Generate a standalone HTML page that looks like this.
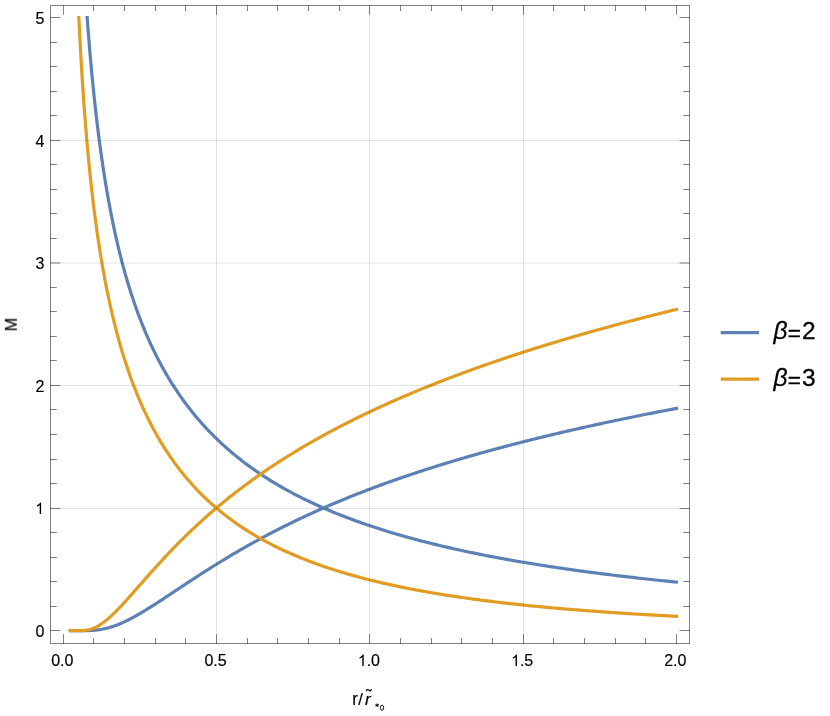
<!DOCTYPE html>
<html><head><meta charset="utf-8"><title>Plot</title>
<style>
html,body{margin:0;padding:0;background:#fff;}
body{width:830px;height:716px;overflow:hidden;font-family:"Liberation Sans",sans-serif;}
svg{display:block;position:absolute;left:0;top:0;}
</style></head><body>
<svg width="830" height="716" viewBox="0 0 830 716">
<rect width="830" height="716" fill="#fff"/>
<g fill="none" stroke-width="3.2" stroke-linecap="square" stroke-linejoin="round">
<path d="M87.16,17.60 L87.44,21.36 L87.72,25.10 L88.01,28.83 L88.30,32.54 L88.59,36.23 L88.89,39.91 L89.19,43.58 L89.49,47.22 L89.80,50.85 L90.11,54.47 L90.43,58.07 L90.74,61.65 L91.07,65.22 L91.39,68.77 L91.72,72.31 L92.06,75.82 L92.39,79.33 L92.73,82.81 L93.08,86.29 L93.43,89.74 L93.78,93.18 L94.14,96.61 L94.50,100.01 L94.87,103.41 L95.24,106.78 L95.62,110.14 L96.00,113.49 L96.38,116.82 L96.77,120.13 L97.16,123.43 L97.56,126.71 L97.96,129.98 L98.37,133.23 L98.78,136.47 L99.20,139.69 L99.62,142.89 L100.05,146.09 L100.48,149.26 L100.92,152.42 L101.36,155.57 L101.81,158.70 L102.26,161.81 L102.72,164.91 L103.18,168.00 L103.65,171.07 L104.12,174.12 L104.60,177.16 L105.09,180.19 L105.58,183.20 L106.08,186.20 L106.58,189.18 L107.09,192.15 L107.61,195.10 L108.13,198.04 L108.65,200.97 L109.19,203.88 L109.73,206.78 L110.27,209.66 L110.83,212.53 L111.39,215.38 L111.95,218.23 L112.53,221.05 L113.11,223.87 L113.69,226.67 L114.28,229.45 L114.88,232.23 L115.49,234.99 L116.11,237.73 L116.73,240.47 L117.36,243.19 L117.99,245.89 L118.64,248.59 L119.29,251.27 L119.95,253.93 L120.62,256.59 L121.29,259.23 L121.97,261.86 L122.67,264.48 L123.36,267.08 L124.07,269.67 L124.79,272.25 L125.51,274.81 L126.25,277.37 L126.99,279.91 L127.74,282.44 L128.50,284.95 L129.27,287.46 L130.04,289.95 L130.83,292.43 L131.62,294.90 L132.43,297.35 L133.24,299.80 L134.07,302.23 L134.90,304.65 L135.75,307.06 L136.60,309.46 L137.46,311.84 L138.34,314.22 L139.22,316.58 L140.12,318.93 L141.02,321.27 L141.94,323.60 L142.87,325.92 L143.81,328.22 L144.75,330.52 L145.71,332.80 L146.69,335.07 L147.67,337.33 L148.66,339.58 L149.67,341.82 L150.69,344.05 L151.72,346.27 L152.76,348.47 L153.82,350.67 L154.89,352.86 L155.97,355.03 L157.06,357.19 L158.16,359.35 L159.28,361.49 L160.41,363.62 L161.56,365.74 L162.72,367.86 L163.89,369.96 L165.08,372.05 L166.28,374.13 L167.49,376.20 L168.72,378.26 L169.97,380.31 L171.22,382.35 L172.50,384.38 L173.79,386.40 L175.09,388.40 L176.41,390.40 L177.74,392.39 L179.09,394.37 L180.46,396.34 L181.84,398.30 L183.24,400.25 L184.66,402.19 L186.09,404.12 L187.54,406.04 L189.00,407.95 L190.49,409.85 L191.99,411.74 L193.51,413.62 L195.04,415.49 L196.60,417.35 L198.17,419.20 L199.76,421.05 L201.37,422.88 L203.00,424.70 L204.65,426.51 L206.32,428.32 L208.01,430.11 L209.71,431.90 L211.44,433.67 L213.19,435.44 L214.96,437.20 L216.75,438.94 L219.06,441.15 L221.37,443.32 L223.68,445.44 L225.99,447.51 L228.30,449.54 L230.61,451.53 L232.92,453.48 L235.23,455.39 L237.54,457.26 L239.85,459.10 L242.16,460.90 L244.47,462.67 L246.78,464.40 L249.09,466.10 L251.40,467.77 L253.71,469.41 L256.03,471.02 L258.34,472.60 L260.65,474.16 L262.96,475.68 L265.27,477.18 L267.58,478.66 L269.89,480.11 L272.20,481.53 L274.51,482.94 L276.82,484.31 L279.13,485.67 L281.44,487.00 L283.75,488.32 L286.06,489.61 L288.37,490.88 L290.68,492.13 L292.99,493.36 L295.30,494.58 L297.61,495.77 L299.92,496.95 L302.23,498.11 L304.54,499.25 L306.85,500.37 L309.16,501.48 L311.47,502.57 L313.78,503.65 L316.09,504.71 L318.40,505.76 L320.71,506.79 L323.02,507.80 L325.33,508.81 L327.64,509.80 L329.95,510.77 L332.27,511.73 L334.58,512.68 L336.89,513.62 L339.20,514.54 L341.51,515.45 L343.82,516.35 L346.13,517.24 L348.44,518.12 L350.75,518.98 L353.06,519.84 L355.37,520.68 L357.68,521.51 L359.99,522.34 L362.30,523.15 L364.61,523.95 L366.92,524.74 L369.23,525.52 L371.54,526.30 L373.85,527.06 L376.16,527.81 L378.47,528.56 L380.78,529.30 L383.09,530.02 L385.40,530.74 L387.71,531.45 L390.02,532.16 L392.33,532.85 L394.64,533.54 L396.95,534.21 L399.26,534.88 L401.57,535.55 L403.88,536.20 L406.19,536.85 L408.51,537.49 L410.82,538.13 L413.13,538.75 L415.44,539.37 L417.75,539.99 L420.06,540.59 L422.37,541.19 L424.68,541.79 L426.99,542.38 L429.30,542.96 L431.61,543.53 L433.92,544.10 L436.23,544.66 L438.54,545.22 L440.85,545.77 L443.16,546.32 L445.47,546.86 L447.78,547.39 L450.09,547.92 L452.40,548.44 L454.71,548.96 L457.02,549.48 L459.33,549.98 L461.64,550.49 L463.95,550.98 L466.26,551.48 L468.57,551.97 L470.88,552.45 L473.19,552.93 L475.50,553.40 L477.81,553.87 L480.12,554.34 L482.43,554.80 L484.74,555.25 L487.06,555.71 L489.37,556.15 L491.68,556.60 L493.99,557.04 L496.30,557.47 L498.61,557.90 L500.92,558.33 L503.23,558.75 L505.54,559.17 L507.85,559.59 L510.16,560.00 L512.47,560.41 L514.78,560.81 L517.09,561.21 L519.40,561.61 L521.71,562.00 L524.02,562.39 L526.33,562.78 L528.64,563.16 L530.95,563.54 L533.26,563.92 L535.57,564.29 L537.88,564.66 L540.19,565.03 L542.50,565.39 L544.81,565.75 L547.12,566.11 L549.43,566.46 L551.74,566.81 L554.05,567.16 L556.36,567.50 L558.67,567.85 L560.98,568.19 L563.30,568.52 L565.61,568.86 L567.92,569.19 L570.23,569.52 L572.54,569.84 L574.85,570.16 L577.16,570.48 L579.47,570.80 L581.78,571.12 L584.09,571.43 L586.40,571.74 L588.71,572.05 L591.02,572.35 L593.33,572.65 L595.64,572.95 L597.95,573.25 L600.26,573.55 L602.57,573.84 L604.88,574.13 L607.19,574.42 L609.50,574.71 L611.81,574.99 L614.12,575.27 L616.43,575.55 L618.74,575.83 L621.05,576.10 L623.36,576.38 L625.67,576.65 L627.98,576.92 L630.29,577.18 L632.60,577.45 L634.91,577.71 L637.22,577.97 L639.54,578.23 L641.85,578.49 L644.16,578.74 L646.47,579.00 L648.78,579.25 L651.09,579.50 L653.40,579.74 L655.71,579.99 L658.02,580.23 L660.33,580.48 L662.64,580.72 L664.95,580.95 L667.26,581.19 L669.57,581.43 L671.88,581.66 L674.19,581.89 L676.50,582.12" stroke="#5e81b5"/>
<path d="M70.30,630.70 L71.52,630.70 L72.73,630.70 L73.95,630.70 L75.16,630.70 L76.38,630.70 L77.59,630.70 L78.81,630.70 L80.02,630.70 L81.24,630.69 L82.45,630.69 L83.67,630.68 L84.88,630.67 L86.10,630.65 L87.31,630.62 L88.53,630.59 L89.74,630.54 L90.96,630.49 L92.17,630.42 L93.39,630.33 L94.60,630.24 L95.82,630.12 L97.03,629.99 L98.25,629.84 L99.46,629.67 L100.67,629.48 L101.89,629.27 L103.10,629.04 L104.32,628.79 L105.53,628.52 L106.75,628.22 L107.96,627.91 L109.18,627.58 L110.39,627.22 L111.61,626.85 L112.82,626.46 L114.04,626.05 L115.25,625.61 L116.47,625.16 L117.68,624.69 L118.90,624.21 L120.11,623.71 L121.33,623.19 L122.54,622.65 L123.76,622.10 L124.97,621.53 L126.19,620.95 L127.40,620.36 L128.62,619.75 L129.83,619.13 L131.05,618.50 L132.26,617.86 L133.47,617.20 L134.69,616.54 L135.90,615.86 L137.12,615.18 L138.33,614.48 L139.55,613.78 L140.76,613.07 L141.98,612.35 L143.19,611.62 L144.41,610.89 L145.62,610.15 L146.84,609.40 L148.05,608.65 L149.27,607.89 L150.48,607.13 L151.70,606.36 L152.91,605.59 L154.13,604.82 L155.34,604.04 L156.56,603.25 L157.77,602.47 L158.99,601.68 L160.20,600.89 L161.42,600.09 L162.63,599.30 L163.85,598.50 L165.06,597.70 L166.28,596.90 L167.49,596.09 L168.70,595.29 L169.92,594.48 L171.13,593.68 L172.35,592.87 L173.56,592.07 L174.78,591.26 L175.99,590.45 L177.21,589.65 L178.42,588.84 L179.64,588.03 L180.85,587.23 L182.07,586.42 L183.28,585.62 L184.50,584.81 L185.71,584.01 L186.93,583.21 L188.14,582.41 L189.36,581.61 L190.57,580.81 L191.79,580.02 L193.00,579.22 L194.22,578.43 L195.43,577.64 L196.65,576.85 L197.86,576.06 L199.08,575.27 L200.29,574.49 L201.50,573.71 L202.72,572.93 L203.93,572.15 L205.15,571.37 L206.36,570.60 L207.58,569.83 L208.79,569.06 L210.01,568.29 L211.22,567.52 L212.44,566.76 L213.65,566.00 L214.87,565.24 L216.08,564.49 L217.30,563.74 L218.51,562.99 L219.73,562.24 L220.94,561.49 L222.16,560.75 L223.37,560.01 L224.59,559.27 L225.80,558.54 L227.02,557.80 L228.23,557.07 L229.45,556.35 L230.66,555.62 L231.88,554.90 L233.09,554.18 L234.31,553.47 L235.52,552.75 L236.73,552.04 L237.95,551.33 L239.16,550.63 L240.38,549.93 L241.59,549.23 L242.81,548.53 L244.02,547.83 L245.24,547.14 L246.45,546.45 L247.67,545.77 L248.88,545.08 L250.10,544.40 L251.31,543.72 L252.53,543.05 L253.74,542.37 L254.96,541.70 L256.17,541.04 L257.39,540.37 L258.60,539.71 L259.82,539.05 L261.03,538.39 L262.25,537.74 L263.46,537.09 L264.68,536.44 L265.89,535.79 L267.11,535.15 L268.32,534.51 L269.53,533.87 L270.75,533.23 L271.96,532.60 L273.18,531.97 L274.39,531.34 L275.61,530.72 L276.82,530.09 L278.04,529.47 L279.25,528.85 L280.47,528.24 L281.68,527.63 L282.90,527.02 L284.11,526.41 L285.33,525.80 L286.54,525.20 L287.76,524.60 L288.97,524.00 L290.19,523.41 L291.40,522.81 L292.62,522.22 L293.83,521.64 L295.05,521.05 L296.26,520.47 L297.48,519.89 L298.69,519.31 L299.91,518.73 L301.12,518.16 L302.34,517.59 L303.55,517.02 L304.76,516.45 L305.98,515.88 L307.19,515.32 L308.41,514.76 L309.62,514.20 L310.84,513.65 L312.05,513.10 L313.27,512.54 L314.48,512.00 L315.70,511.45 L316.91,510.90 L318.13,510.36 L319.34,509.82 L320.56,509.28 L321.77,508.75 L322.99,508.21 L324.20,507.68 L325.42,507.15 L326.63,506.63 L327.85,506.10 L329.06,505.58 L330.28,505.06 L331.49,504.54 L332.71,504.02 L333.92,503.50 L335.14,502.99 L336.35,502.48 L337.56,501.97 L338.78,501.46 L339.99,500.96 L341.21,500.45 L342.42,499.95 L343.64,499.45 L344.85,498.96 L346.07,498.46 L347.28,497.97 L348.50,497.47 L349.71,496.99 L350.93,496.50 L352.14,496.01 L353.36,495.53 L354.57,495.04 L355.79,494.56 L357.00,494.08 L358.22,493.61 L359.43,493.13 L360.65,492.66 L361.86,492.19 L363.08,491.72 L364.29,491.25 L365.51,490.78 L366.72,490.32 L367.94,489.85 L369.15,489.39 L370.37,488.93 L371.58,488.47 L372.79,488.02 L374.01,487.56 L375.22,487.11 L376.44,486.66 L377.65,486.21 L378.87,485.76 L380.08,485.31 L381.30,484.87 L382.51,484.43 L383.73,483.98 L384.94,483.54 L386.16,483.11 L387.37,482.67 L388.59,482.23 L389.80,481.80 L391.02,481.37 L392.23,480.94 L393.45,480.51 L394.66,480.08 L395.88,479.65 L397.09,479.23 L398.31,478.80 L399.52,478.38 L400.74,477.96 L401.95,477.54 L403.17,477.13 L404.38,476.71 L405.59,476.29 L406.81,475.88 L408.02,475.47 L409.24,475.06 L410.45,474.65 L411.67,474.24 L412.88,473.84 L414.10,473.43 L415.31,473.03 L416.53,472.63 L417.74,472.23 L418.96,471.83 L420.17,471.43 L421.39,471.03 L422.60,470.64 L423.82,470.24 L425.03,469.85 L426.25,469.46 L427.46,469.07 L428.68,468.68 L429.89,468.29 L431.11,467.90 L432.32,467.52 L433.54,467.13 L434.75,466.75 L435.97,466.37 L437.18,465.99 L438.40,465.61 L439.61,465.23 L440.82,464.86 L442.04,464.48 L443.25,464.11 L444.47,463.73 L445.68,463.36 L446.90,462.99 L448.11,462.62 L449.33,462.25 L450.54,461.89 L451.76,461.52 L452.97,461.16 L454.19,460.79 L455.40,460.43 L456.62,460.07 L457.83,459.71 L459.05,459.35 L460.26,458.99 L461.48,458.63 L462.69,458.28 L463.91,457.92 L465.12,457.57 L466.34,457.22 L467.55,456.86 L468.77,456.51 L469.98,456.16 L471.20,455.81 L472.41,455.47 L473.62,455.12 L474.84,454.78 L476.05,454.43 L477.27,454.09 L478.48,453.75 L479.70,453.40 L480.91,453.06 L482.13,452.73 L483.34,452.39 L484.56,452.05 L485.77,451.71 L486.99,451.38 L488.20,451.04 L489.42,450.71 L490.63,450.38 L491.85,450.05 L493.06,449.72 L494.28,449.39 L495.49,449.06 L496.71,448.73 L497.92,448.40 L499.14,448.08 L500.35,447.75 L501.57,447.43 L502.78,447.11 L504.00,446.78 L505.21,446.46 L506.43,446.14 L507.64,445.82 L508.85,445.50 L510.07,445.19 L511.28,444.87 L512.50,444.55 L513.71,444.24 L514.93,443.92 L516.14,443.61 L517.36,443.30 L518.57,442.99 L519.79,442.68 L521.00,442.37 L522.22,442.06 L523.43,441.75 L524.65,441.44 L525.86,441.14 L527.08,440.83 L528.29,440.53 L529.51,440.22 L530.72,439.92 L531.94,439.62 L533.15,439.31 L534.37,439.01 L535.58,438.71 L536.80,438.41 L538.01,438.12 L539.23,437.82 L540.44,437.52 L541.65,437.22 L542.87,436.93 L544.08,436.63 L545.30,436.34 L546.51,436.05 L547.73,435.76 L548.94,435.46 L550.16,435.17 L551.37,434.88 L552.59,434.59 L553.80,434.30 L555.02,434.02 L556.23,433.73 L557.45,433.44 L558.66,433.16 L559.88,432.87 L561.09,432.59 L562.31,432.30 L563.52,432.02 L564.74,431.74 L565.95,431.46 L567.17,431.18 L568.38,430.90 L569.60,430.62 L570.81,430.34 L572.03,430.06 L573.24,429.78 L574.46,429.51 L575.67,429.23 L576.88,428.96 L578.10,428.68 L579.31,428.41 L580.53,428.13 L581.74,427.86 L582.96,427.59 L584.17,427.32 L585.39,427.05 L586.60,426.78 L587.82,426.51 L589.03,426.24 L590.25,425.97 L591.46,425.70 L592.68,425.44 L593.89,425.17 L595.11,424.91 L596.32,424.64 L597.54,424.38 L598.75,424.11 L599.97,423.85 L601.18,423.59 L602.40,423.33 L603.61,423.06 L604.83,422.80 L606.04,422.54 L607.26,422.28 L608.47,422.03 L609.68,421.77 L610.90,421.51 L612.11,421.25 L613.33,421.00 L614.54,420.74 L615.76,420.48 L616.97,420.23 L618.19,419.98 L619.40,419.72 L620.62,419.47 L621.83,419.22 L623.05,418.96 L624.26,418.71 L625.48,418.46 L626.69,418.21 L627.91,417.96 L629.12,417.71 L630.34,417.46 L631.55,417.22 L632.77,416.97 L633.98,416.72 L635.20,416.47 L636.41,416.23 L637.63,415.98 L638.84,415.74 L640.06,415.49 L641.27,415.25 L642.49,415.01 L643.70,414.76 L644.91,414.52 L646.13,414.28 L647.34,414.04 L648.56,413.80 L649.77,413.56 L650.99,413.32 L652.20,413.08 L653.42,412.84 L654.63,412.60 L655.85,412.36 L657.06,412.13 L658.28,411.89 L659.49,411.65 L660.71,411.42 L661.92,411.18 L663.14,410.95 L664.35,410.71 L665.57,410.48 L666.78,410.25 L668.00,410.01 L669.21,409.78 L670.43,409.55 L671.64,409.32 L672.86,409.09 L674.07,408.86 L675.29,408.63 L676.50,408.40" stroke="#5e81b5"/>
<path d="M78.85,17.60 L79.08,22.21 L79.30,26.79 L79.53,31.34 L79.77,35.86 L80.01,40.35 L80.25,44.82 L80.49,49.26 L80.74,53.67 L80.99,58.06 L81.24,62.42 L81.50,66.75 L81.77,71.06 L82.03,75.34 L82.30,79.60 L82.58,83.83 L82.85,88.04 L83.14,92.22 L83.42,96.38 L83.71,100.51 L84.01,104.62 L84.31,108.71 L84.61,112.77 L84.92,116.81 L85.23,120.83 L85.55,124.82 L85.87,128.79 L86.19,132.74 L86.52,136.67 L86.86,140.57 L87.20,144.45 L87.55,148.31 L87.90,152.16 L88.25,155.97 L88.61,159.77 L88.98,163.55 L89.35,167.31 L89.73,171.04 L90.11,174.76 L90.50,178.46 L90.89,182.14 L91.29,185.79 L91.69,189.43 L92.10,193.05 L92.52,196.65 L92.94,200.23 L93.37,203.80 L93.81,207.34 L94.25,210.87 L94.70,214.38 L95.15,217.87 L95.62,221.34 L96.08,224.79 L96.56,228.23 L97.04,231.65 L97.53,235.05 L98.02,238.44 L98.53,241.80 L99.04,245.16 L99.56,248.49 L100.08,251.81 L100.62,255.11 L101.16,258.40 L101.70,261.66 L102.26,264.92 L102.83,268.16 L103.40,271.38 L103.98,274.58 L104.57,277.77 L105.17,280.95 L105.78,284.11 L106.39,287.25 L107.02,290.38 L107.65,293.49 L108.30,296.59 L108.95,299.67 L109.61,302.74 L110.28,305.79 L110.97,308.83 L111.66,311.86 L112.36,314.87 L113.07,317.86 L113.79,320.84 L114.53,323.81 L115.27,326.76 L116.03,329.70 L116.79,332.62 L117.57,335.53 L118.36,338.42 L119.16,341.30 L119.97,344.17 L120.79,347.02 L121.62,349.86 L122.47,352.69 L123.33,355.50 L124.20,358.30 L125.09,361.08 L125.99,363.85 L126.90,366.60 L127.82,369.35 L128.76,372.08 L129.71,374.79 L130.67,377.49 L131.65,380.18 L132.65,382.85 L133.65,385.51 L134.68,388.16 L135.71,390.79 L136.77,393.41 L137.83,396.02 L138.92,398.61 L140.02,401.19 L141.13,403.75 L142.26,406.30 L143.41,408.84 L144.58,411.36 L145.76,413.87 L146.96,416.37 L148.17,418.85 L149.41,421.32 L150.66,423.77 L151.93,426.21 L153.22,428.64 L154.53,431.05 L155.85,433.45 L157.20,435.84 L158.57,438.21 L159.95,440.57 L161.36,442.91 L162.78,445.24 L164.23,447.55 L165.70,449.85 L167.19,452.14 L168.70,454.41 L170.23,456.67 L171.79,458.91 L173.37,461.14 L174.97,463.36 L176.59,465.56 L178.24,467.75 L179.91,469.92 L181.61,472.07 L183.33,474.22 L185.08,476.34 L186.85,478.46 L188.65,480.56 L190.47,482.64 L192.32,484.71 L194.20,486.76 L196.10,488.80 L198.04,490.82 L200.00,492.83 L201.99,494.83 L204.01,496.80 L206.05,498.77 L208.13,500.71 L210.24,502.65 L212.38,504.56 L214.55,506.46 L216.75,508.35 L219.06,510.29 L221.37,512.17 L223.68,514.02 L225.99,515.82 L228.30,517.59 L230.61,519.31 L232.92,521.00 L235.23,522.65 L237.54,524.26 L239.85,525.84 L242.16,527.39 L244.47,528.90 L246.78,530.38 L249.09,531.83 L251.40,533.26 L253.71,534.65 L256.03,536.01 L258.34,537.35 L260.65,538.66 L262.96,539.94 L265.27,541.20 L267.58,542.44 L269.89,543.65 L272.20,544.84 L274.51,546.01 L276.82,547.15 L279.13,548.27 L281.44,549.37 L283.75,550.45 L286.06,551.52 L288.37,552.56 L290.68,553.58 L292.99,554.59 L295.30,555.57 L297.61,556.54 L299.92,557.50 L302.23,558.43 L304.54,559.35 L306.85,560.26 L309.16,561.14 L311.47,562.02 L313.78,562.87 L316.09,563.72 L318.40,564.55 L320.71,565.36 L323.02,566.17 L325.33,566.95 L327.64,567.73 L329.95,568.49 L332.27,569.24 L334.58,569.98 L336.89,570.71 L339.20,571.43 L341.51,572.13 L343.82,572.82 L346.13,573.50 L348.44,574.18 L350.75,574.84 L353.06,575.49 L355.37,576.13 L357.68,576.76 L359.99,577.38 L362.30,577.99 L364.61,578.59 L366.92,579.19 L369.23,579.77 L371.54,580.35 L373.85,580.91 L376.16,581.47 L378.47,582.02 L380.78,582.57 L383.09,583.10 L385.40,583.63 L387.71,584.15 L390.02,584.66 L392.33,585.16 L394.64,585.66 L396.95,586.15 L399.26,586.63 L401.57,587.11 L403.88,587.58 L406.19,588.04 L408.51,588.50 L410.82,588.95 L413.13,589.39 L415.44,589.83 L417.75,590.26 L420.06,590.69 L422.37,591.11 L424.68,591.53 L426.99,591.93 L429.30,592.34 L431.61,592.74 L433.92,593.13 L436.23,593.52 L438.54,593.90 L440.85,594.28 L443.16,594.65 L445.47,595.02 L447.78,595.38 L450.09,595.74 L452.40,596.09 L454.71,596.44 L457.02,596.78 L459.33,597.12 L461.64,597.46 L463.95,597.79 L466.26,598.12 L468.57,598.44 L470.88,598.76 L473.19,599.08 L475.50,599.39 L477.81,599.69 L480.12,600.00 L482.43,600.30 L484.74,600.59 L487.06,600.88 L489.37,601.17 L491.68,601.46 L493.99,601.74 L496.30,602.02 L498.61,602.29 L500.92,602.56 L503.23,602.83 L505.54,603.10 L507.85,603.36 L510.16,603.62 L512.47,603.87 L514.78,604.12 L517.09,604.37 L519.40,604.62 L521.71,604.86 L524.02,605.11 L526.33,605.34 L528.64,605.58 L530.95,605.81 L533.26,606.04 L535.57,606.27 L537.88,606.49 L540.19,606.71 L542.50,606.93 L544.81,607.15 L547.12,607.36 L549.43,607.58 L551.74,607.79 L554.05,607.99 L556.36,608.20 L558.67,608.40 L560.98,608.60 L563.30,608.80 L565.61,609.00 L567.92,609.19 L570.23,609.38 L572.54,609.57 L574.85,609.76 L577.16,609.94 L579.47,610.13 L581.78,610.31 L584.09,610.49 L586.40,610.66 L588.71,610.84 L591.02,611.01 L593.33,611.18 L595.64,611.35 L597.95,611.52 L600.26,611.69 L602.57,611.85 L604.88,612.01 L607.19,612.17 L609.50,612.33 L611.81,612.49 L614.12,612.65 L616.43,612.80 L618.74,612.95 L621.05,613.10 L623.36,613.25 L625.67,613.40 L627.98,613.55 L630.29,613.69 L632.60,613.83 L634.91,613.98 L637.22,614.12 L639.54,614.25 L641.85,614.39 L644.16,614.53 L646.47,614.66 L648.78,614.80 L651.09,614.93 L653.40,615.06 L655.71,615.19 L658.02,615.31 L660.33,615.44 L662.64,615.57 L664.95,615.69 L667.26,615.81 L669.57,615.93 L671.88,616.05 L674.19,616.17 L676.50,616.29" stroke="#e19c24"/>
<path d="M70.30,630.70 L71.52,630.70 L72.73,630.70 L73.95,630.70 L75.16,630.70 L76.38,630.70 L77.59,630.69 L78.81,630.68 L80.02,630.65 L81.24,630.61 L82.45,630.55 L83.67,630.46 L84.88,630.34 L86.10,630.18 L87.31,629.97 L88.53,629.73 L89.74,629.43 L90.96,629.08 L92.17,628.68 L93.39,628.22 L94.60,627.71 L95.82,627.15 L97.03,626.53 L98.25,625.86 L99.46,625.14 L100.67,624.37 L101.89,623.56 L103.10,622.69 L104.32,621.79 L105.53,620.84 L106.75,619.86 L107.96,618.83 L109.18,617.78 L110.39,616.69 L111.61,615.57 L112.82,614.42 L114.04,613.25 L115.25,612.05 L116.47,610.83 L117.68,609.60 L118.90,608.34 L120.11,607.06 L121.33,605.77 L122.54,604.47 L123.76,603.15 L124.97,601.82 L126.19,600.49 L127.40,599.14 L128.62,597.79 L129.83,596.43 L131.05,595.06 L132.26,593.69 L133.47,592.32 L134.69,590.94 L135.90,589.56 L137.12,588.18 L138.33,586.79 L139.55,585.41 L140.76,584.03 L141.98,582.65 L143.19,581.27 L144.41,579.89 L145.62,578.52 L146.84,577.14 L148.05,575.77 L149.27,574.41 L150.48,573.04 L151.70,571.68 L152.91,570.33 L154.13,568.98 L155.34,567.63 L156.56,566.29 L157.77,564.96 L158.99,563.63 L160.20,562.30 L161.42,560.99 L162.63,559.67 L163.85,558.37 L165.06,557.07 L166.28,555.77 L167.49,554.48 L168.70,553.20 L169.92,551.92 L171.13,550.66 L172.35,549.39 L173.56,548.14 L174.78,546.89 L175.99,545.64 L177.21,544.41 L178.42,543.18 L179.64,541.95 L180.85,540.74 L182.07,539.53 L183.28,538.32 L184.50,537.13 L185.71,535.94 L186.93,534.75 L188.14,533.58 L189.36,532.41 L190.57,531.24 L191.79,530.09 L193.00,528.94 L194.22,527.79 L195.43,526.66 L196.65,525.53 L197.86,524.40 L199.08,523.28 L200.29,522.17 L201.50,521.07 L202.72,519.97 L203.93,518.88 L205.15,517.79 L206.36,516.71 L207.58,515.64 L208.79,514.57 L210.01,513.51 L211.22,512.45 L212.44,511.40 L213.65,510.36 L214.87,509.32 L216.08,508.29 L217.30,507.27 L218.51,506.25 L219.73,505.23 L220.94,504.22 L222.16,503.22 L223.37,502.22 L224.59,501.23 L225.80,500.24 L227.02,499.26 L228.23,498.29 L229.45,497.32 L230.66,496.35 L231.88,495.39 L233.09,494.44 L234.31,493.49 L235.52,492.55 L236.73,491.61 L237.95,490.68 L239.16,489.75 L240.38,488.82 L241.59,487.90 L242.81,486.99 L244.02,486.08 L245.24,485.18 L246.45,484.28 L247.67,483.38 L248.88,482.49 L250.10,481.61 L251.31,480.73 L252.53,479.85 L253.74,478.98 L254.96,478.11 L256.17,477.25 L257.39,476.39 L258.60,475.54 L259.82,474.69 L261.03,473.84 L262.25,473.00 L263.46,472.16 L264.68,471.33 L265.89,470.50 L267.11,469.68 L268.32,468.86 L269.53,468.04 L270.75,467.23 L271.96,466.42 L273.18,465.62 L274.39,464.82 L275.61,464.02 L276.82,463.23 L278.04,462.44 L279.25,461.65 L280.47,460.87 L281.68,460.09 L282.90,459.32 L284.11,458.55 L285.33,457.78 L286.54,457.02 L287.76,456.26 L288.97,455.50 L290.19,454.75 L291.40,454.00 L292.62,453.26 L293.83,452.51 L295.05,451.77 L296.26,451.04 L297.48,450.31 L298.69,449.58 L299.91,448.85 L301.12,448.13 L302.34,447.41 L303.55,446.69 L304.76,445.98 L305.98,445.27 L307.19,444.56 L308.41,443.86 L309.62,443.16 L310.84,442.46 L312.05,441.77 L313.27,441.07 L314.48,440.39 L315.70,439.70 L316.91,439.02 L318.13,438.34 L319.34,437.66 L320.56,436.99 L321.77,436.31 L322.99,435.65 L324.20,434.98 L325.42,434.32 L326.63,433.66 L327.85,433.00 L329.06,432.34 L330.28,431.69 L331.49,431.04 L332.71,430.39 L333.92,429.75 L335.14,429.11 L336.35,428.47 L337.56,427.83 L338.78,427.20 L339.99,426.57 L341.21,425.94 L342.42,425.31 L343.64,424.69 L344.85,424.06 L346.07,423.45 L347.28,422.83 L348.50,422.21 L349.71,421.60 L350.93,420.99 L352.14,420.38 L353.36,419.78 L354.57,419.18 L355.79,418.58 L357.00,417.98 L358.22,417.38 L359.43,416.79 L360.65,416.19 L361.86,415.61 L363.08,415.02 L364.29,414.43 L365.51,413.85 L366.72,413.27 L367.94,412.69 L369.15,412.11 L370.37,411.54 L371.58,410.97 L372.79,410.40 L374.01,409.83 L375.22,409.26 L376.44,408.70 L377.65,408.14 L378.87,407.57 L380.08,407.02 L381.30,406.46 L382.51,405.91 L383.73,405.35 L384.94,404.80 L386.16,404.25 L387.37,403.71 L388.59,403.16 L389.80,402.62 L391.02,402.08 L392.23,401.54 L393.45,401.00 L394.66,400.47 L395.88,399.93 L397.09,399.40 L398.31,398.87 L399.52,398.34 L400.74,397.82 L401.95,397.29 L403.17,396.77 L404.38,396.25 L405.59,395.73 L406.81,395.21 L408.02,394.69 L409.24,394.18 L410.45,393.67 L411.67,393.16 L412.88,392.65 L414.10,392.14 L415.31,391.63 L416.53,391.13 L417.74,390.62 L418.96,390.12 L420.17,389.62 L421.39,389.13 L422.60,388.63 L423.82,388.13 L425.03,387.64 L426.25,387.15 L427.46,386.66 L428.68,386.17 L429.89,385.68 L431.11,385.20 L432.32,384.71 L433.54,384.23 L434.75,383.75 L435.97,383.27 L437.18,382.79 L438.40,382.31 L439.61,381.84 L440.82,381.36 L442.04,380.89 L443.25,380.42 L444.47,379.95 L445.68,379.48 L446.90,379.02 L448.11,378.55 L449.33,378.09 L450.54,377.62 L451.76,377.16 L452.97,376.70 L454.19,376.24 L455.40,375.79 L456.62,375.33 L457.83,374.88 L459.05,374.42 L460.26,373.97 L461.48,373.52 L462.69,373.07 L463.91,372.62 L465.12,372.18 L466.34,371.73 L467.55,371.29 L468.77,370.84 L469.98,370.40 L471.20,369.96 L472.41,369.52 L473.62,369.09 L474.84,368.65 L476.05,368.21 L477.27,367.78 L478.48,367.35 L479.70,366.91 L480.91,366.48 L482.13,366.05 L483.34,365.63 L484.56,365.20 L485.77,364.77 L486.99,364.35 L488.20,363.93 L489.42,363.50 L490.63,363.08 L491.85,362.66 L493.06,362.24 L494.28,361.83 L495.49,361.41 L496.71,360.99 L497.92,360.58 L499.14,360.17 L500.35,359.75 L501.57,359.34 L502.78,358.93 L504.00,358.52 L505.21,358.12 L506.43,357.71 L507.64,357.30 L508.85,356.90 L510.07,356.50 L511.28,356.09 L512.50,355.69 L513.71,355.29 L514.93,354.89 L516.14,354.49 L517.36,354.10 L518.57,353.70 L519.79,353.31 L521.00,352.91 L522.22,352.52 L523.43,352.13 L524.65,351.74 L525.86,351.34 L527.08,350.96 L528.29,350.57 L529.51,350.18 L530.72,349.79 L531.94,349.41 L533.15,349.02 L534.37,348.64 L535.58,348.26 L536.80,347.88 L538.01,347.50 L539.23,347.12 L540.44,346.74 L541.65,346.36 L542.87,345.98 L544.08,345.61 L545.30,345.23 L546.51,344.86 L547.73,344.49 L548.94,344.12 L550.16,343.74 L551.37,343.37 L552.59,343.00 L553.80,342.64 L555.02,342.27 L556.23,341.90 L557.45,341.54 L558.66,341.17 L559.88,340.81 L561.09,340.44 L562.31,340.08 L563.52,339.72 L564.74,339.36 L565.95,339.00 L567.17,338.64 L568.38,338.28 L569.60,337.93 L570.81,337.57 L572.03,337.21 L573.24,336.86 L574.46,336.51 L575.67,336.15 L576.88,335.80 L578.10,335.45 L579.31,335.10 L580.53,334.75 L581.74,334.40 L582.96,334.05 L584.17,333.70 L585.39,333.36 L586.60,333.01 L587.82,332.67 L589.03,332.32 L590.25,331.98 L591.46,331.64 L592.68,331.29 L593.89,330.95 L595.11,330.61 L596.32,330.27 L597.54,329.94 L598.75,329.60 L599.97,329.26 L601.18,328.92 L602.40,328.59 L603.61,328.25 L604.83,327.92 L606.04,327.59 L607.26,327.25 L608.47,326.92 L609.68,326.59 L610.90,326.26 L612.11,325.93 L613.33,325.60 L614.54,325.27 L615.76,324.94 L616.97,324.62 L618.19,324.29 L619.40,323.97 L620.62,323.64 L621.83,323.32 L623.05,322.99 L624.26,322.67 L625.48,322.35 L626.69,322.03 L627.91,321.71 L629.12,321.39 L630.34,321.07 L631.55,320.75 L632.77,320.43 L633.98,320.11 L635.20,319.80 L636.41,319.48 L637.63,319.17 L638.84,318.85 L640.06,318.54 L641.27,318.23 L642.49,317.91 L643.70,317.60 L644.91,317.29 L646.13,316.98 L647.34,316.67 L648.56,316.36 L649.77,316.05 L650.99,315.74 L652.20,315.44 L653.42,315.13 L654.63,314.82 L655.85,314.52 L657.06,314.21 L658.28,313.91 L659.49,313.61 L660.71,313.30 L661.92,313.00 L663.14,312.70 L664.35,312.40 L665.57,312.10 L666.78,311.80 L668.00,311.50 L669.21,311.20 L670.43,310.90 L671.64,310.61 L672.86,310.31 L674.07,310.01 L675.29,309.72 L676.50,309.42" stroke="#e19c24"/>
</g>
<g stroke="#000" stroke-opacity="0.11" stroke-width="1" fill="none">
<path d="M216.5,6.0 V643.0"/>
<path d="M369.5,6.0 V643.0"/>
<path d="M523.5,6.0 V643.0"/>
<path d="M51.0,508.5 H689.0"/>
<path d="M51.0,385.5 H689.0"/>
<path d="M51.0,263.0 H689.0"/>
<path d="M51.0,140.5 H689.0"/>
</g>
<path d="M63.5,644.0 v-9.8 M63.5,5.0 v9.8 M93.5,644.0 v-6.0 M93.5,5.0 v6.0 M124.5,644.0 v-6.0 M124.5,5.0 v6.0 M155.5,644.0 v-6.0 M155.5,5.0 v6.0 M185.5,644.0 v-6.0 M185.5,5.0 v6.0 M216.5,644.0 v-9.8 M216.5,5.0 v9.8 M247.5,644.0 v-6.0 M247.5,5.0 v6.0 M277.5,644.0 v-6.0 M277.5,5.0 v6.0 M308.5,644.0 v-6.0 M308.5,5.0 v6.0 M339.5,644.0 v-6.0 M339.5,5.0 v6.0 M369.5,644.0 v-9.8 M369.5,5.0 v9.8 M400.5,644.0 v-6.0 M400.5,5.0 v6.0 M431.5,644.0 v-6.0 M431.5,5.0 v6.0 M461.5,644.0 v-6.0 M461.5,5.0 v6.0 M492.5,644.0 v-6.0 M492.5,5.0 v6.0 M523.5,644.0 v-9.8 M523.5,5.0 v9.8 M553.5,644.0 v-6.0 M553.5,5.0 v6.0 M584.5,644.0 v-6.0 M584.5,5.0 v6.0 M615.5,644.0 v-6.0 M615.5,5.0 v6.0 M645.5,644.0 v-6.0 M645.5,5.0 v6.0 M676.5,644.0 v-9.8 M676.5,5.0 v9.8 M50.0,630.5 h10.4 M690.0,630.5 h-10.4 M50.0,606.5 h6.75 M690.0,606.5 h-6.75 M50.0,581.5 h6.75 M690.0,581.5 h-6.75 M50.0,557.5 h6.75 M690.0,557.5 h-6.75 M50.0,532.5 h6.75 M690.0,532.5 h-6.75 M50.0,508.5 h10.4 M690.0,508.5 h-10.4 M50.0,483.5 h6.75 M690.0,483.5 h-6.75 M50.0,459.5 h6.75 M690.0,459.5 h-6.75 M50.0,434.5 h6.75 M690.0,434.5 h-6.75 M50.0,409.5 h6.75 M690.0,409.5 h-6.75 M50.0,385.5 h10.4 M690.0,385.5 h-10.4 M50.0,360.5 h6.75 M690.0,360.5 h-6.75 M50.0,336.5 h6.75 M690.0,336.5 h-6.75 M50.0,311.5 h6.75 M690.0,311.5 h-6.75 M50.0,287.5 h6.75 M690.0,287.5 h-6.75 M50.0,263.0 h10.4 M690.0,263.0 h-10.4 M50.0,238.5 h6.75 M690.0,238.5 h-6.75 M50.0,213.5 h6.75 M690.0,213.5 h-6.75 M50.0,189.5 h6.75 M690.0,189.5 h-6.75 M50.0,164.5 h6.75 M690.0,164.5 h-6.75 M50.0,140.5 h10.4 M690.0,140.5 h-10.4 M50.0,115.5 h6.75 M690.0,115.5 h-6.75 M50.0,91.5 h6.75 M690.0,91.5 h-6.75 M50.0,66.5 h6.75 M690.0,66.5 h-6.75 M50.0,42.5 h6.75 M690.0,42.5 h-6.75 M50.0,17.5 h10.4 M690.0,17.5 h-10.4" stroke="#404040" stroke-opacity="0.66" stroke-width="1" fill="none"/>
<rect x="50.5" y="5.5" width="639.0" height="638.0" fill="none" stroke="#404040" stroke-opacity="0.66" stroke-width="1"/>
<g opacity="0.999" font-family="'Liberation Sans', sans-serif" fill="#000" stroke="#000" stroke-width="0.18">
<text transform="translate(44.4,637.10) scale(1.0,1)" font-size="16" text-anchor="end">0</text>
<path transform="translate(35.15,514.00) scale(0.007812,-0.007812)" d="M763,0H583V1147Q518,1085 412.5,1023Q307,961 223,930V1104Q374,1175 487,1276Q600,1377 647,1472H763Z"/>
<text transform="translate(44.4,391.86) scale(1.0,1)" font-size="16" text-anchor="end">2</text>
<text transform="translate(44.4,269.24) scale(1.0,1)" font-size="16" text-anchor="end">3</text>
<text transform="translate(44.4,146.62) scale(1.0,1)" font-size="16" text-anchor="end">4</text>
<text transform="translate(44.4,24.00) scale(1.0,1)" font-size="16" text-anchor="end">5</text>
<text transform="translate(62.35,666.3) scale(1.0,1)" font-size="16" text-anchor="middle">0.0</text>
<text transform="translate(215.60,666.3) scale(1.0,1)" font-size="16" text-anchor="middle">0.5</text>
<path transform="translate(357.73,666.00) scale(0.007812,-0.007812)" d="M763,0H583V1147Q518,1085 412.5,1023Q307,961 223,930V1104Q374,1175 487,1276Q600,1377 647,1472H763Z"/>
<text x="366.63" y="666.3" font-size="16">.0</text>
<path transform="translate(510.98,666.00) scale(0.007812,-0.007812)" d="M763,0H583V1147Q518,1085 412.5,1023Q307,961 223,930V1104Q374,1175 487,1276Q600,1377 647,1472H763Z"/>
<text x="519.88" y="666.3" font-size="16">.5</text>
<text transform="translate(675.35,666.3) scale(1.0,1)" font-size="16" text-anchor="middle">2.0</text>
<text transform="translate(16.85,324.5) rotate(-90) scale(1.0,1)" font-size="16" text-anchor="middle">M</text>
<g>
<text transform="translate(352.3,704.5) scale(1.04,1.1)" font-size="16">r</text>
<text x="358.3" y="704.5" font-size="16.5">/</text>
<text x="365.1" y="704.8" font-size="17.3" font-style="italic">r</text>
<text x="365.9" y="700.7" font-size="17">˜</text>
<path d="M377.10,703.50L377.10,707.00M375.45,704.38L378.75,706.12M378.75,704.38L375.45,706.12" stroke="#000" stroke-width="0.95" fill="none"/>
<ellipse cx="382.1" cy="707.7" rx="1.6" ry="2.6" fill="none" stroke="#000" stroke-width="0.95"/>
</g>
<text x="773.4" y="339.4" font-size="24.5" font-style="italic" stroke="#000" stroke-width="0.3">β</text>
<text x="787.65" y="341.2" font-size="22.5" stroke="#000" stroke-width="0.35">=</text>
<text x="801.9" y="339.4" font-size="24.5" stroke="#000" stroke-width="0.3">2</text>
<text x="773.4" y="386.0" font-size="24.5" font-style="italic" stroke="#000" stroke-width="0.3">β</text>
<text x="787.65" y="387.8" font-size="22.5" stroke="#000" stroke-width="0.35">=</text>
<text x="801.9" y="386.0" font-size="24.5" stroke="#000" stroke-width="0.3">3</text>
</g>
<path d="M720.7,332.6 H759" stroke="#5e81b5" stroke-width="3.2" fill="none"/>
<path d="M720.7,379.2 H759" stroke="#e19c24" stroke-width="3.2" fill="none"/>
</svg>
</body></html>
